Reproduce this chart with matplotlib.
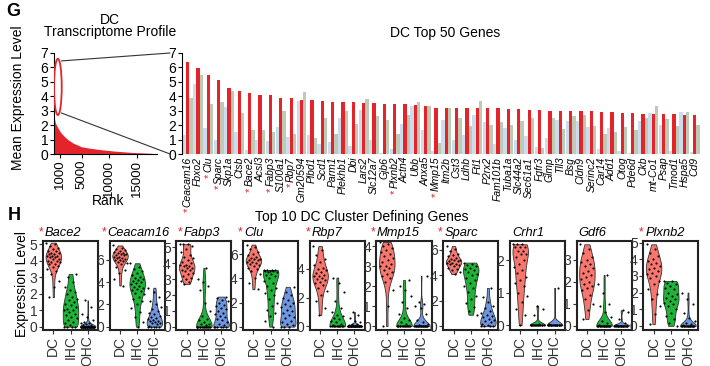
import numpy as np
import matplotlib
matplotlib.use("Agg")
import matplotlib.pyplot as plt
from matplotlib.patches import Ellipse, ConnectionPatch

plt.rcParams["font.family"] = ["Liberation Sans", "DejaVu Sans"]

W, H = 710, 366
RED = "#e3252b"
LBLUE = "#c9ddec"
GREY = "#bdcab6"
VCOLS = ["#F8766D", "#1fb33a", "#6f96e0"]
TXT = "#333333"

# ---- panel G data ----
top_genes = ["Ceacam16", "Fbxo2", "Clu", "Sparc", "Skp1a", "Ctsb", "Bace2", "Acsl3",
             "Fabp3", "S100a1", "Rbp7", "Gm20594", "Plbd1", "Scd1", "Parm1", "Plekhb1",
             "Dbi", "Lars2", "Slc12a7", "Gjb6", "Plxnb2", "Actn4", "Ubb", "Anxa5",
             "Mmp15", "Itm2b", "Cst3", "Ldhb", "Ftl1", "P2rx2", "Fam101b", "Tuba1a",
             "Slc44a2", "Sec61a1", "Fgfr3", "Glmp", "Tll3", "Bsg", "Cldn9", "Serinc2",
             "Car14", "Add1", "Otog", "Pde6d", "Ckb", "mt-Co1", "Psap", "Tmod1",
             "Hspa5", "Cd9"]
starred = ["Ceacam16", "Clu", "Sparc", "Bace2", "Fabp3", "Rbp7", "Plxnb2", "Mmp15"]

dc_mean = [6.4, 5.97, 5.47, 5.12, 4.55, 4.36, 4.2, 4.06, 4.06, 3.85, 3.85, 3.77, 3.77,
           3.7, 3.63, 3.63, 3.63, 3.56, 3.56, 3.5, 3.5, 3.5, 3.42, 3.3, 3.2, 3.2,
           3.2, 3.2, 3.2, 3.2, 3.2, 3.13, 3.13, 3.07, 3.07, 3.0, 3.0, 3.0, 3.0, 3.0,
           2.92, 2.92, 2.85, 2.85, 2.78, 2.78, 2.78, 2.78, 2.7, 2.7]
ohc_mean = [1.3, 4.83, 1.77, 0.94, 3.25, 1.5, 0.28, 0.94, 0.87, 1.9, 1.2, 3.65, 1.35,
            0.7, 0.83, 2.48, 0.52, 3.07, 1.0, 0.1, 0.35, 2.1, 3.35, 1.65, 0.2, 2.36,
            1.0, 1.3, 2.7, 2.2, 0.66, 1.8, 1.0, 1.23, 0.47, 1.1, 2.36, 2.3, 2.3, 1.9,
            0.35, 1.77, 0.2, 0.1, 2.26, 2.83, 2.0, 0.24, 2.92, 0.16]
ihc_mean = [3.85, 5.47, 3.5, 3.6, 4.36, 2.83, 1.65, 1.65, 1.5, 3.0, 1.4, 4.3, 1.1,
            2.52, 1.4, 3.0, 2.07, 3.82, 2.6, 2.36, 1.4, 2.7, 3.63, 3.3, 0.78, 3.2,
            2.5, 1.93, 3.7, 2.0, 2.2, 2.0, 2.3, 2.5, 0.4, 2.5, 1.75, 2.6, 2.7, 1.93,
            1.37, 1.5, 1.9, 1.65, 2.5, 3.35, 2.43, 1.93, 2.92, 2.0]

tail_rank = [80, 200, 450, 800, 1200, 1800, 2500, 3500, 5000, 6500, 8500, 11000,
             14500, 17000, 18200]
tail_expr = [2.5, 2.2, 2.0, 1.75, 1.5, 1.25, 1.0, 0.75, 0.5, 0.4, 0.3, 0.2, 0.1,
             0.06, 0.03]

# ---- panel H data (cell values per group: DC, IHC, OHC) ----
vln_genes = ["Bace2", "Ceacam16", "Fabp3", "Clu", "Rbp7", "Mmp15", "Sparc", "Crhr1",
             "Gdf6", "Plxnb2"]
vln_star = [True, True, True, True, True, True, True, False, False, True]
vln_ymax = [5.2, 7.7, 5.4, 7.1, 5.95, 4.25, 6.7, 2.6, 3.85, 5.1]
vln_ymin = [-0.2, -0.3, -0.2, -0.28, -0.25, -0.2, -0.3, -0.15, -0.2, -0.25]
vln_ticks = [[0, 1, 2, 3, 4, 5], [0, 2, 4, 6], [0, 1, 2, 3, 4, 5], [0, 2, 4, 6],
             [0, 2, 4], [0, 1, 2, 3, 4], [0, 2, 4, 6], [0, 1, 2], [0, 1, 2, 3],
             [0, 1, 2, 3, 4, 5]]

bace2 = [
    [5.1, 5.0, 4.9, 4.8, 4.7, 4.6, 4.6, 4.5, 4.5, 4.4, 4.4, 4.3, 4.3, 4.3, 4.2, 4.2,
     4.1, 4.1, 4.0, 4.0, 3.9, 3.9, 3.8, 3.8, 3.7, 3.6, 3.5, 3.4, 3.2, 2.8, 2.4, 1.8],
    [0.0] * 4 + [0.1, 0.2, 0.3, 0.4, 0.5, 0.6, 0.7, 0.8, 0.9, 1.0, 1.0, 1.1, 1.2, 1.3,
                 1.4, 1.5, 1.6, 1.7, 1.8, 2.0, 2.1, 2.2, 2.4, 2.7, 3.0, 3.2],
    [0.0] * 30 + [0.05, 0.1, 0.1, 0.15, 0.2, 0.2, 0.3, 0.4, 0.6, 0.8, 1.2, 1.6],
]
ceacam16 = [
    [7.3, 7.1, 7.0, 6.9, 6.8, 6.7, 6.6, 6.6, 6.5, 6.5, 6.4, 6.4, 6.3, 6.3, 6.2, 6.2,
     6.1, 6.0, 6.0, 5.9, 5.8, 5.7, 5.6, 5.4, 5.1, 4.8, 4.3, 3.7],
    [5.7, 5.4, 5.2, 5.0, 4.8, 4.6, 4.5, 4.4, 4.3, 4.2, 4.1, 4.0, 3.9, 3.8, 3.7, 3.6,
     3.5, 3.4, 3.3, 3.2, 3.0, 2.9, 2.7, 2.5, 2.3, 2.0, 1.7, 1.3, 0.9, 0.4, 0.0],
    [0.0] * 5 + [0.1, 0.2, 0.3, 0.3, 0.4, 0.5, 0.5, 0.6, 0.7, 0.8, 0.9, 1.0, 1.1, 1.2,
                 1.4, 1.6, 1.8, 2.0, 2.3, 2.7, 3.1, 3.5],
]
fabp3 = [
    [5.2, 5.2, 5.2, 5.1, 4.9, 4.7, 4.5, 4.4, 4.3, 4.2, 4.1, 4.0, 3.9, 3.9, 3.8, 3.8,
     3.7, 3.7, 3.6, 3.6, 3.5, 3.4, 3.3, 3.2, 3.1, 3.0, 2.9, 2.8, 2.7],
    [0.0] * 14 + [0.1, 0.2, 0.2, 0.3, 0.4, 0.5, 0.7, 1.0, 1.5, 2.3, 2.6, 2.8, 3.0, 3.7],
    [0.0] * 6 + [0.1, 0.2, 0.3, 0.4, 0.5, 0.6, 0.7, 0.8, 0.9, 1.0, 1.1, 1.2, 1.3, 1.4,
                 1.5, 1.6, 1.7, 1.8, 1.9],
]
clu = [
    [6.8, 6.6, 6.4, 6.2, 6.0, 5.9, 5.8, 5.7, 5.6, 5.6, 5.5, 5.5, 5.4, 5.4, 5.3, 5.2,
     5.1, 5.0, 4.9, 4.8, 4.6, 4.4, 4.0, 3.6, 3.1],
    [4.7, 4.7, 4.7, 4.7, 4.6, 4.6, 4.6, 4.5, 4.5, 4.4, 4.3, 4.2, 4.0, 3.8, 3.6, 3.4,
     3.2, 3.0, 2.8, 2.6, 2.3, 2.0, 1.7, 1.4, 1.1, 0.9, 0.5, 0.0],
    [0.0] * 3 + [0.1, 0.2, 0.4, 0.5, 0.7, 0.8, 1.0, 1.1, 1.3, 1.4, 1.6, 1.7, 1.9, 2.0,
                 2.2, 2.4, 2.6, 2.9, 3.3],
]
rbp7 = [
    [5.6, 5.3, 5.0, 4.7, 4.5, 4.3, 4.1, 4.0, 3.9, 3.8, 3.7, 3.6, 3.5, 3.5, 3.4, 3.3,
     3.2, 3.1, 3.0, 2.9, 2.7, 2.5, 2.2, 1.8, 1.3, 0.8],
    [0.0] * 10 + [0.1, 0.2, 0.3, 0.4, 0.5, 0.6, 0.7, 0.8, 1.0, 1.3, 1.8, 2.4, 3.0, 3.4],
    [0.0] * 25 + [0.05, 0.1, 0.15, 0.2, 0.3, 0.4, 0.6, 0.8, 1.0],
]
mmp15 = [
    [4.2, 4.1, 4.0, 3.9, 3.8, 3.7, 3.6, 3.5, 3.4, 3.3, 3.2, 3.1, 3.0, 3.0, 2.9, 2.8,
     2.7, 2.6, 2.5, 2.4, 2.2, 1.8, 1.0, 0.0],
    [0.0] * 14 + [0.1, 0.2, 0.3, 0.4, 0.6, 0.9, 1.2, 1.5, 1.8, 2.0, 2.3],
    [0.0] * 20 + [0.05, 0.1, 0.2, 0.3, 0.6, 0.9, 1.0, 1.1, 1.2, 2.5],
]
sparc = [
    [6.3, 6.1, 5.9, 5.7, 5.6, 5.5, 5.4, 5.3, 5.2, 5.2, 5.1, 5.1, 5.0, 5.0, 4.9, 4.9,
     4.8, 4.7, 4.6, 4.5, 4.4, 4.3, 4.1],
    [5.0, 4.9, 4.8, 4.7, 4.6, 4.5, 4.4, 4.3, 4.1, 4.0, 3.8, 3.6, 3.4, 3.2, 3.0, 2.7,
     2.4, 2.1, 1.8, 1.5, 1.2, 0.9],
    [0.0] * 4 + [0.1, 0.2, 0.3, 0.4, 0.5, 0.6, 0.7, 0.8, 0.9, 1.0, 1.2, 1.4, 1.6, 1.9,
                 2.3, 3.0],
]
crhr1 = [
    [2.5, 2.5, 2.5, 2.4, 2.4, 2.4, 2.3, 2.3, 2.2, 2.2, 2.1, 2.0, 1.9, 1.8, 1.7, 1.6,
     1.5, 1.4, 1.3, 1.2, 1.0, 0.9, 0.7, 0.5, 0.3, 0.0],
    [0.0] * 14 + [0.05, 0.3, 0.5, 0.6],
    [0.0] * 18 + [0.05, 1.15],
]
gdf6 = [
    [3.7, 3.5, 3.3, 3.1, 3.0, 2.9, 2.8, 2.7, 2.6, 2.5, 2.4, 2.3, 2.2, 2.1, 2.0, 1.9,
     1.8, 1.7, 1.6, 1.4, 1.2, 1.0, 0.7, 0.3],
    [0.0] * 18 + [0.05, 0.1, 0.2, 0.4, 0.6, 0.9, 1.0, 1.5, 1.9, 2.3],
    [0.0] * 18 + [0.05, 0.1, 0.3, 0.6, 0.7],
]
plxnb2 = [
    [4.9, 4.6, 4.4, 4.2, 4.0, 3.9, 3.8, 3.7, 3.6, 3.5, 3.4, 3.3, 3.2, 3.1, 3.0, 2.9,
     2.7, 2.5, 2.2, 1.9, 1.6, 1.2, 0.7, 0.1],
    [2.7, 2.7, 2.6, 2.5, 2.4, 2.3, 2.2, 2.0, 1.9, 1.8, 1.7, 1.6, 1.5, 1.4, 1.3, 1.2,
     1.0, 0.8, 0.6, 0.4, 0.2, 0.0],
    [0.0] * 18 + [0.05, 0.1, 0.2, 0.3, 0.5, 0.8, 1.3, 1.6, 2.0],
]
vln_data = [bace2, ceacam16, fabp3, clu, rbp7, mmp15, sparc, crhr1, gdf6, plxnb2]
groups = ["DC", "IHC", "OHC"]

# horizontal shift (px) of each violin title relative to its box
title_shift = [2, -2, 7, 1, 2, 0, 1, 2, 2, 2]


def box(left, top, width, height):
    return [left / W, 1 - (top + height) / H, width / W, height / H]


def main():
    fig = plt.figure(figsize=(W / 100, H / 100), dpi=100)

    # rank profile
    ax1 = fig.add_axes(box(54, 53, 103, 101))
    ranks = list(range(1, len(dc_mean) + 1)) + tail_rank
    vals = dc_mean + tail_expr
    ax1.fill_between(ranks, vals, 0, color=RED, lw=0)
    ax1.set_xlim(0, 18700)
    ax1.set_ylim(0, 7)
    ax1.set_yticks(range(8))
    ax1.set_xticks([1000, 5000, 10000, 15000])
    ax1.set_xticklabels(["1000", "5000", "10000", "15000"], rotation=90, fontsize=9.5)
    ax1.tick_params(axis="y", labelsize=10, length=3, pad=1)
    ax1.tick_params(axis="x", length=3, pad=1)
    for s in ("top", "right"):
        ax1.spines[s].set_visible(False)
    ell = Ellipse((700, 4.65), 1400, 3.9, fill=False, ec=RED, lw=1.3, zorder=5)
    ax1.add_patch(ell)

    # top 50 bars
    ax2 = fig.add_axes(box(182, 53, 521, 101))
    x = np.arange(len(top_genes))
    bw = 0.32
    ax2.bar(x - bw, ohc_mean, bw, color=LBLUE, lw=0)
    ax2.bar(x, dc_mean, bw, color=RED, lw=0)
    ax2.bar(x + bw, ihc_mean, bw, color=GREY, lw=0)
    ax2.set_xlim(-0.55, 49.8)
    ax2.set_ylim(0, 7)
    ax2.set_yticks(range(8))
    ax2.tick_params(axis="y", labelsize=10, length=3, pad=1)
    ax2.set_xticks(x)
    ax2.set_xticklabels(top_genes, rotation=90, fontsize=7.5, fontstyle="italic")
    ax2.tick_params(axis="x", length=0, pad=2)
    for s in ("top", "right", "bottom"):
        ax2.spines[s].set_visible(False)

    for xa, ya in [((1300, 6.45), 1.0), ((1300, 2.85), 0.0)]:
        con = ConnectionPatch(xyA=xa, coordsA=ax1.transData,
                              xyB=(-0.023, ya), coordsB=ax2.transAxes,
                              color="#333333", lw=0.8)
        fig.add_artist(con)

    fig.text(13 / W, 1 - 12 / H, "G", fontsize=13, fontweight="bold", ha="center", va="center")
    fig.text(110 / W, 1 - 26 / H, "DC\nTranscriptome Profile", fontsize=10,
             ha="center", va="center", linespacing=0.85)
    fig.text(445 / W, 1 - 33 / H, "DC Top 50 Genes", fontsize=10, ha="center", va="center")
    fig.text(18 / W, 1 - 98 / H, "Mean Expression Level", fontsize=10, rotation=90,
             ha="center", va="center")
    fig.text(108 / W, 1 - 201 / H, "Rank", fontsize=10, ha="center", va="center")

    # panel H violins
    fig.text(14 / W, 1 - 215 / H, "H", fontsize=13, fontweight="bold", ha="center", va="center")
    fig.text(362 / W, 1 - 217 / H, "Top 10 DC Cluster Defining Genes", fontsize=10,
             ha="center", va="center")
    fig.text(22 / W, 1 - 284 / H, "Expression Level", fontsize=10, rotation=90,
             ha="center", va="center")

    for i, gene in enumerate(vln_genes):
        left = 43 + 66.7 * i
        ax = fig.add_axes(box(left, 241, 55, 89))
        data = vln_data[i]
        parts = ax.violinplot(data, positions=[1, 2, 3], widths=0.9,
                              showextrema=False, bw_method=0.4)
        for body, c in zip(parts["bodies"], VCOLS):
            body.set_facecolor(c)
            body.set_edgecolor("#333333")
            body.set_linewidth(0.6)
            body.set_alpha(1)
        for k, v in enumerate(data):
            v = np.asarray(v)
            jit = ((np.arange(len(v)) * 0.618034) % 1.0 - 0.5) * 0.8
            ax.scatter(k + 1 + jit, v, s=2.4, c="black", lw=0, zorder=3)
        ax.set_xlim(0.4, 3.6)
        ax.set_ylim(vln_ymin[i], vln_ymax[i])
        ax.set_yticks(vln_ticks[i])
        ax.set_xticks([1, 2, 3])
        ax.set_xticklabels(groups, rotation=90)
        ax.tick_params(labelsize=10, labelcolor=TXT, color=TXT, length=3, pad=1, width=0.8)
        for s in ax.spines.values():
            s.set_linewidth(1.5)
            s.set_color("#222222")
        tx = (left + title_shift[i]) / W
        ty = 1 - 233 / H
        fig.text(tx, ty, gene, fontsize=9.3, fontstyle="italic", ha="left", va="center")
        if vln_star[i]:
            fig.text(tx - 1.5 / W, ty + 1 / H, "*", fontsize=8.5, color=RED,
                     ha="right", va="center")

    # red asterisks under the starred bar labels
    fig.canvas.draw()
    renderer = fig.canvas.get_renderer()
    labels = ax2.get_xticklabels()
    for name in starred:
        bb = labels[top_genes.index(name)].get_window_extent(renderer)
        fig.text((bb.x0 + bb.width * 0.5) / W, (bb.y0 - 1) / H, "*", rotation=90,
                 fontsize=8, color=RED, ha="center", va="top")

    fig.savefig("out.png", dpi=100)
    plt.close(fig)


if __name__ == "__main__":
    main()
